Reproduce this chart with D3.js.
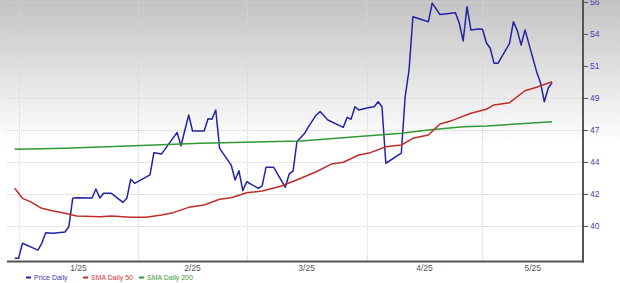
<!DOCTYPE html>
<html>
<head>
<meta charset="utf-8">
<script src="https://cdn.jsdelivr.net/npm/d3@7"></script>
<style>
  body { margin: 0; background: #fff; }
  svg { display: block; }
</style>
</head>
<body>
<div id="chart"></div>
<script>
// price + moving averages
var priceDates = ["2025-01-24","2025-01-25","2025-01-26","2025-01-30","2025-01-31","2025-02-01","2025-02-03","2025-02-06","2025-02-07","2025-02-08",
    "2025-02-09","2025-02-13","2025-02-14","2025-02-15","2025-02-16","2025-02-18","2025-02-21","2025-02-22","2025-02-23","2025-02-24",
    "2025-02-28","2025-03-01","2025-03-03","2025-03-07","2025-03-08","2025-03-10","2025-03-11","2025-03-14","2025-03-15","2025-03-16",
    "2025-03-17","2025-03-18","2025-03-21","2025-03-22","2025-03-23","2025-03-24","2025-03-25","2025-03-28","2025-03-29","2025-03-30",
    "2025-04-01","2025-04-04","2025-04-05","2025-04-06","2025-04-07","2025-04-09","2025-04-10","2025-04-12","2025-04-13","2025-04-15",
    "2025-04-19","2025-04-20","2025-04-21","2025-04-22","2025-04-23","2025-04-26","2025-04-27","2025-04-28","2025-04-29","2025-04-30",
    "2025-05-04","2025-05-05","2025-05-06","2025-05-07","2025-05-11","2025-05-12","2025-05-14","2025-05-18","2025-05-19","2025-05-20",
    "2025-05-21","2025-05-22","2025-05-24","2025-05-25","2025-05-26","2025-05-27","2025-05-28","2025-05-29","2025-06-01","2025-06-02",
    "2025-06-03","2025-06-04","2025-06-05","2025-06-08","2025-06-09","2025-06-10","2025-06-11","2025-06-12"];
var priceValues = [37.38,37.38,38.46,37.97,38.46,39.22,39.18,39.27,39.65,41.69,
    41.73,41.71,42.36,41.71,42.05,42.05,41.40,41.69,43.06,42.77,
    43.37,44.97,44.88,46.43,45.47,47.68,46.53,46.53,47.41,47.37,
    48.04,45.28,44.08,43.01,43.67,42.24,42.88,42.41,42.58,43.92,
    43.92,42.48,43.44,43.65,45.76,46.36,46.84,47.68,47.92,47.32,
    46.79,47.51,47.37,48.27,48.04,48.23,48.27,48.63,48.27,44.21,
    44.93,48.99,50.91,54.74,54.38,55.71,54.89,55.03,54.27,53.00,
    55.46,53.79,53.86,53.84,52.87,52.47,51.39,51.39,52.83,54.38,
    53.74,52.71,53.79,50.79,50.00,48.63,49.60,50.00];

var sma50Dates = ["2025-01-24","2025-01-26","2025-01-28","2025-01-31","2025-02-03","2025-02-06","2025-02-09","2025-02-15","2025-02-18","2025-02-23",
    "2025-02-27","2025-03-03","2025-03-06","2025-03-10","2025-03-14","2025-03-18","2025-03-21","2025-03-25","2025-03-29","2025-04-03",
    "2025-04-08","2025-04-12","2025-04-16","2025-04-19","2025-04-23","2025-04-26","2025-04-30","2025-05-04","2025-05-07","2025-05-11",
    "2025-05-14","2025-05-17","2025-05-22","2025-05-26","2025-05-28","2025-06-01","2025-06-05","2025-06-08","2025-06-12"];
var sma50Values = [42.41,41.69,41.45,40.97,40.78,40.61,40.42,40.37,40.42,40.33,
    40.33,40.49,40.66,41.04,41.21,41.62,41.73,42.09,42.22,42.58,
    43.13,43.60,44.16,44.28,44.80,44.97,45.40,45.52,46.00,46.24,
    47.03,47.27,47.80,48.09,48.40,48.56,49.42,49.67,50.07];

var sma200Dates = ["2025-01-24","2025-02-06","2025-02-24","2025-03-13","2025-04-08","2025-05-04","2025-05-11","2025-05-20","2025-05-26","2025-06-12"];
var sma200Values = [45.21,45.28,45.47,45.64,45.81,46.36,46.60,46.84,46.89,47.20];

var xTickDates = ["2025-01-25","2025-02-25","2025-03-25","2025-04-25","2025-05-25"];
var xTickLabels = ["1/25","2/25","3/25","4/25","5/25"];
var yTickValues = [39.7, 42.0, 44.3, 46.6, 48.9, 51.2, 53.5, 55.8];
var yTickLabels = ["40","42","44","47","49","51","54","56"];

var seriesNames = ["Price Daily", "SMA Daily 50", "SMA Daily 200"];
var seriesColors = ["#2323a6", "#bf2d2a", "#2f9a34"];
var legendTextColors = ["#3b3bb0", "#cc3b3b", "#3a9a3a"];

var width = 620, height = 283;
var plotLeft = 7, plotRight = 583, plotTop = 0, plotBottom = 261.5;
var parse = d3.timeParse("%Y-%m-%d");

var x = d3.scaleTime()
    .domain([parse("2025-01-22"), parse("2025-06-20")])
    .range([plotLeft, plotRight]);

var y = d3.scaleLinear()
    .domain([37.15, 55.94])
    .range([plotBottom, plotTop]);

var svg = d3.select("#chart")
    .append("svg")
    .attr("width", width)
    .attr("height", height);

// grey fade at the top
var grad = svg.append("defs").append("linearGradient")
    .attr("id", "bg")
    .attr("x1", 0).attr("y1", 0)
    .attr("x2", 0).attr("y2", 1);
grad.append("stop").attr("offset", "0").attr("stop-color", "#c3c3c3");
grad.append("stop").attr("offset", "0.55").attr("stop-color", "#ffffff");

svg.append("rect")
    .attr("x", 0).attr("y", 0)
    .attr("width", width).attr("height", plotBottom)
    .attr("fill", "url(#bg)");

// grid
svg.append("g")
    .selectAll("line")
    .data(yTickValues)
    .enter()
    .append("line")
    .attr("x1", plotLeft).attr("x2", plotRight)
    .attr("y1", function(d) { return Math.round(y(d)) + 0.5; })
    .attr("y2", function(d) { return Math.round(y(d)) + 0.5; })
    .attr("stroke", "#d4d4d4")
    .attr("stroke-dasharray", "1,1");

svg.append("g")
    .selectAll("line")
    .data(xTickDates)
    .enter()
    .append("line")
    .attr("x1", function(d) { return Math.round(x(parse(d))) + 0.5; })
    .attr("x2", function(d) { return Math.round(x(parse(d))) + 0.5; })
    .attr("y1", plotTop).attr("y2", plotBottom)
    .attr("stroke", "#d4d4d4")
    .attr("stroke-dasharray", "1,1");

// series
var series = [
    {dates: priceDates, values: priceValues, color: seriesColors[0]},
    {dates: sma200Dates, values: sma200Values, color: seriesColors[2]},
    {dates: sma50Dates, values: sma50Values, color: seriesColors[1]}
];

var line = d3.line()
    .x(function(d) { return x(d.date); })
    .y(function(d) { return y(d.value); });

series.forEach(function(s) {
    var pts = s.dates.map(function(dt, j) {
        return {date: parse(dt), value: s.values[j]};
    });
    svg.append("path")
        .datum(pts)
        .attr("fill", "none")
        .attr("stroke", s.color)
        .attr("stroke-width", 1.5)
        .attr("stroke-linejoin", "round")
        .attr("d", line);
});

// right axis
var yAxis = d3.axisRight(y)
    .tickValues(yTickValues)
    .tickSize(4)
    .tickPadding(2)
    .tickFormat(function(d, i) { return yTickLabels[i]; });

var gy = svg.append("g")
    .attr("transform", "translate(" + (plotRight + 1) + ",0)")
    .call(yAxis);
gy.select(".domain").remove();
gy.selectAll("line").attr("stroke", "#555");
gy.selectAll("text")
    .attr("fill", "#4444b2")
    .attr("font-family", "Liberation Sans, Arial, sans-serif")
    .attr("font-size", "8.5px");

// month labels sit in the middle of each month band
var tickX = xTickDates.map(function(d) { return x(parse(d)); });
tickX.push(plotRight);

svg.append("g")
    .selectAll("text")
    .data(xTickLabels)
    .enter()
    .append("text")
    .attr("x", function(d, i) { return (tickX[i] + tickX[i + 1]) / 2; })
    .attr("y", plotBottom + 9)
    .attr("text-anchor", "middle")
    .attr("fill", "#555")
    .attr("font-family", "Liberation Sans, Arial, sans-serif")
    .attr("font-size", "8.5px")
    .text(function(d) { return d; });

// frame lines
svg.append("line")
    .attr("x1", plotLeft).attr("x2", plotRight + 1)
    .attr("y1", plotBottom).attr("y2", plotBottom)
    .attr("stroke", "#555").attr("stroke-width", 2);
svg.append("line")
    .attr("x1", plotRight).attr("x2", plotRight)
    .attr("y1", plotTop).attr("y2", plotBottom + 1)
    .attr("stroke", "#555").attr("stroke-width", 2);

// legend
var legendX = [26, 83, 139];
var legend = svg.append("g")
    .selectAll("g")
    .data(seriesNames)
    .enter()
    .append("g")
    .attr("transform", function(d, i) { return "translate(" + legendX[i] + ",277.5)"; });

legend.append("rect")
    .attr("x", 0).attr("y", -1)
    .attr("width", 5).attr("height", 2)
    .attr("fill", function(d, i) { return seriesColors[i]; });

legend.append("text")
    .attr("x", 8)
    .attr("dy", "0.35em")
    .attr("font-family", "Liberation Sans, Arial, sans-serif")
    .attr("font-size", "7px")
    .attr("fill", function(d, i) { return legendTextColors[i]; })
    .text(function(d) { return d; });
</script>
</body>
</html>
